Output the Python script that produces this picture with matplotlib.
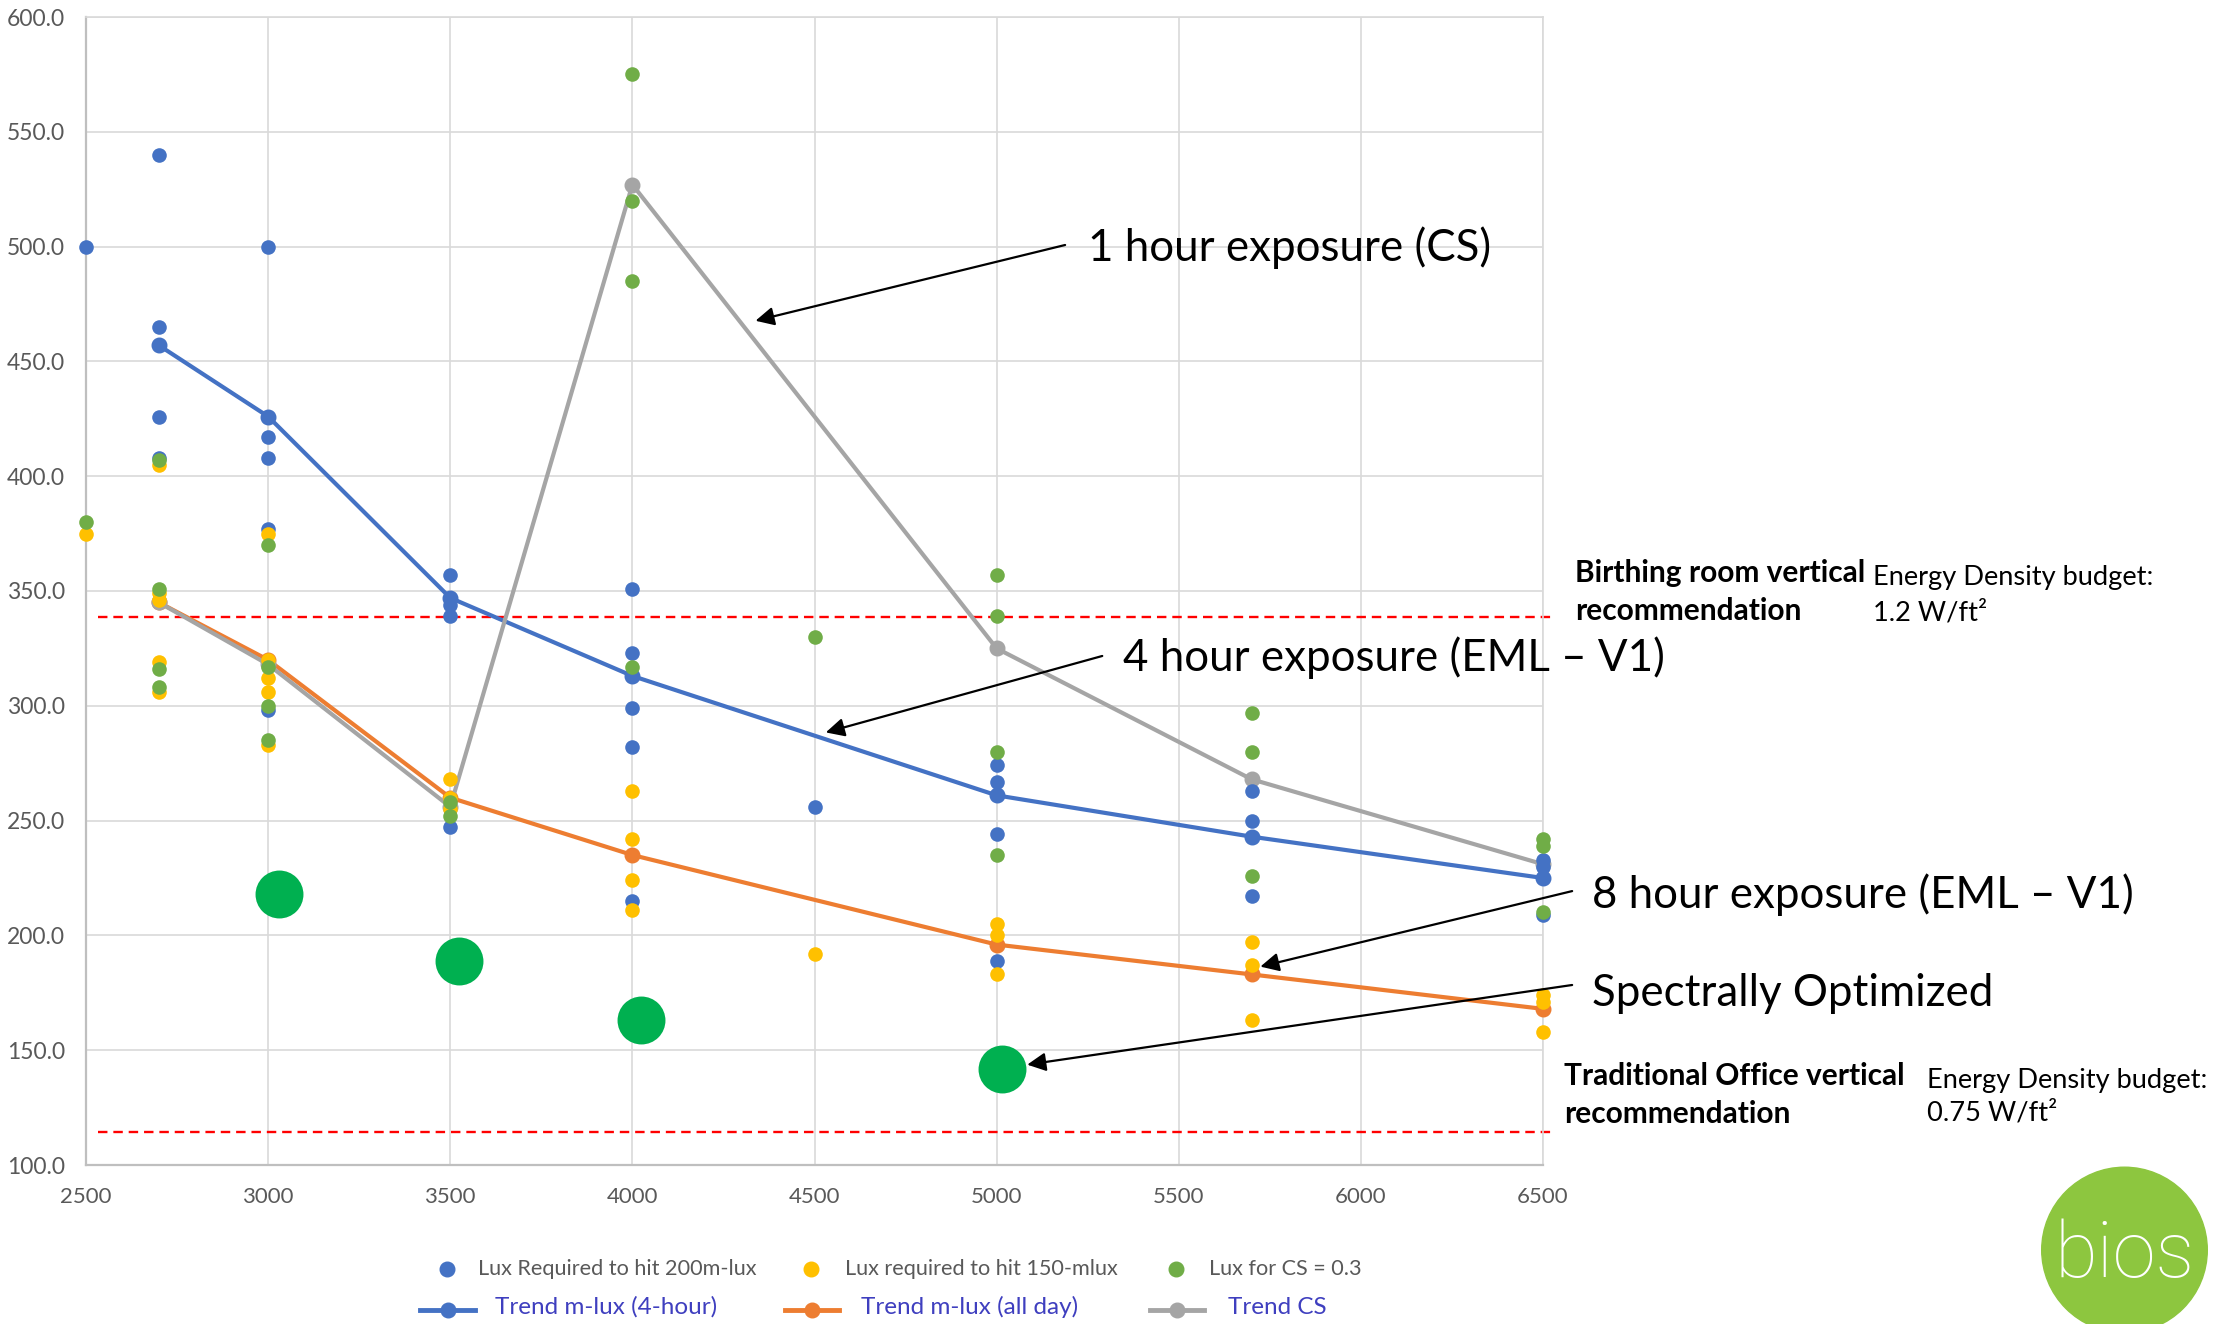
import matplotlib
matplotlib.use("Agg")
import matplotlib.pyplot as plt
from matplotlib.lines import Line2D
from matplotlib.patches import Circle

plt.rcParams['font.family'] = ['Lato', 'DejaVu Sans']

W, H = 2220, 1324

# ---------------- data ----------------
cct_points = [2500, 2700, 3000, 3500, 4000, 4500, 5000, 5700, 6500]
lux_200mlux = [[500], [540, 465, 457, 426, 408], [500, 426, 417, 408, 377, 298],
               [357, 347, 344, 339, 247], [351, 323, 313, 299, 282, 215], [256],
               [274, 267, 261, 244, 189], [263, 250, 243, 217], [233, 230, 225, 209]]
lux_150mlux = [[375], [405, 349, 346, 319, 306], [375, 320, 312, 306, 283],
               [268, 260, 255], [263, 242, 224, 211], [192],
               [205, 200, 183], [197, 187, 163], [174, 171, 158]]
lux_cs03 = [[380], [407, 351, 316, 308], [370, 317, 300, 285], [258, 252],
            [575, 520, 485, 317], [330], [357, 339, 280, 235], [297, 280, 226],
            [242, 239, 210]]

trend_cct = [2700, 3000, 3500, 4000, 5000, 5700, 6500]
trend_4hour = [457, 426, 347, 313, 261, 243, 225]
trend_allday = [345, 320, 260, 235, 196, 183, 168]
trend_cs = [345, 318, 256, 527, 325, 268, 231]

spectral_cct = [3030, 3525, 4025, 5015]
spectral_lux = [218, 189, 163, 142]

birthing_rec = 338.5
office_rec = 114.5

x_ticks = [2500, 3000, 3500, 4000, 4500, 5000, 5500, 6000, 6500]
y_ticks = [100, 150, 200, 250, 300, 350, 400, 450, 500, 550, 600]

scatter_labels = ["Lux Required to hit 200m-lux", "Lux required to hit 150-mlux", "Lux for CS = 0.3"]
trend_labels = ["Trend m-lux (4-hour)", "Trend m-lux (all day)", "Trend CS"]

C_BLUE, C_YEL, C_GRN = '#4472C4', '#FFC000', '#70AD47'
C_ORG, C_GRY = '#ED7D31', '#A5A5A5'
C_SPEC = '#00B050'
TXT = '#595959'


def flat(xs, groups):
    ox, oy = [], []
    for x, g in zip(xs, groups):
        ox.extend([x] * len(g))
        oy.extend(g)
    return ox, oy


def fp(x, y):
    return (x / W, 1 - y / H)


fig = plt.figure(figsize=(W / 100, H / 100), dpi=100)
fig.patch.set_facecolor('white')
ax = fig.add_axes([86 / W, 1 - 1165 / H, (1543 - 86) / W, (1165 - 17) / H])

ax.set_xlim(2500, 6500)
ax.set_ylim(100, 600)
ax.set_xticks(x_ticks)
ax.set_yticks(y_ticks)
ax.set_yticklabels([f"{v:.1f}" for v in y_ticks])
ax.tick_params(axis='y', length=0, labelsize=16.5, labelcolor=TXT, pad=15)
ax.tick_params(axis='x', length=0, labelsize=16, labelcolor=TXT, pad=16)
ax.grid(True, color='#D9D9D9', lw=1.2)
ax.set_axisbelow(True)
for s in ['top', 'right']:
    ax.spines[s].set_color('#D9D9D9')
    ax.spines[s].set_linewidth(1.2)
for s in ['left', 'bottom']:
    ax.spines[s].set_color('#BFBFBF')
    ax.spines[s].set_linewidth(1.6)

# reference lines
for yv in (birthing_rec, office_rec):
    ax.plot([0.008, 1.007], [yv, yv], transform=ax.get_yaxis_transform(),
            color='#FF0000', lw=1.7, ls=(0, (4, 2.5)), clip_on=False, zorder=2)

# trend lines
for ys, c in ((trend_4hour, C_BLUE), (trend_allday, C_ORG), (trend_cs, C_GRY)):
    ax.plot(trend_cct, ys, color=c, lw=3, marker='o', ms=10.5, mec=c, zorder=3, clip_on=False)

# scatter series
for groups, c in ((lux_200mlux, C_BLUE), (lux_150mlux, C_YEL), (lux_cs03, C_GRN)):
    xs, ys = flat(cct_points, groups)
    ax.scatter(xs, ys, s=10.5 ** 2, color=c, linewidths=0, zorder=4, clip_on=False)

# spectrally optimized
ax.scatter(spectral_cct, spectral_lux, s=34.5 ** 2, color=C_SPEC, linewidths=0, zorder=6, clip_on=False)

# annotations with arrows
arrow_kw = dict(arrowstyle='-|>', color='black', lw=1.6, mutation_scale=28, shrinkA=0, shrinkB=0)
ax.annotate('', xy=(4338, 467.7), xytext=(5188, 500.7), arrowprops=arrow_kw, annotation_clip=False, zorder=7)
ax.annotate('', xy=(4531, 288.4), xytext=(5290, 321.7), arrowprops=arrow_kw, annotation_clip=False, zorder=7)
ax.annotate('', xy=(5724, 186.4), xytext=(6580, 219.3), arrowprops=arrow_kw, annotation_clip=False, zorder=7)
ax.annotate('', xy=(5084, 143.7), xytext=(6580, 178.4), arrowprops=arrow_kw, annotation_clip=False, zorder=7)

big = dict(fontsize=31.6, color='black', va='baseline', ha='left')
fig.text(*fp(1088, 261), "1 hour exposure (CS)", **big)
fig.text(*fp(1123, 671), "4 hour exposure (EML – V1)", **big)
fig.text(*fp(1592, 908), "8 hour exposure (EML – V1)", **big)
fig.text(*fp(1592, 1006), "Spectrally Optimized", **big)

bold = dict(fontsize=21.5, fontweight='bold', color='black', va='baseline', ha='left')
reg = dict(fontsize=19.6, color='black', va='baseline', ha='left')
fig.text(*fp(1575, 582), "Birthing room vertical", **bold)
fig.text(*fp(1575, 620), "recommendation", **bold)
fig.text(*fp(1873, 585), "Energy Density budget:", **reg)
fig.text(*fp(1873, 620), "1.2 W/ft²", **reg)
fig.text(*fp(1564, 1085), "Traditional Office vertical", **bold)
fig.text(*fp(1564, 1123), "recommendation", **bold)
fig.text(*fp(1927, 1088), "Energy Density budget:", **reg)
fig.text(*fp(1927, 1121), "0.75 W/ft²", **reg)

# legend (row 1: scatter series, row 2: trend lines)
row1_marker_x = [447, 811, 1176]
row1_text_x = [478, 845, 1209]
for mx, tx, c, lab in zip(row1_marker_x, row1_text_x, (C_BLUE, C_YEL, C_GRN), scatter_labels):
    fig.add_artist(Line2D([mx / W], [1 - 1269 / H], marker='o', ms=10.5, color=c, mec=c,
                          ls='none', transform=fig.transFigure))
    fig.text(*fp(tx, 1269), lab, fontsize=15.6, color=TXT, va='center', ha='left')

row2_line = [(420, 475), (785, 839), (1150, 1204)]
row2_text_x = [495, 861, 1228]
for (x0, x1), tx, c, lab in zip(row2_line, row2_text_x, (C_BLUE, C_ORG, C_GRY), trend_labels):
    fig.add_artist(Line2D([x0 / W, x1 / W], [1 - 1310 / H] * 2, color=c, lw=3.5,
                          transform=fig.transFigure))
    fig.add_artist(Line2D([(x0 + x1) / 2 / W], [1 - 1310 / H], marker='o', ms=10.5, color=c,
                          mec=c, ls='none', transform=fig.transFigure))
    fig.text(*fp(tx, 1307), lab, fontsize=17.5, color='#3F3FBF', va='center', ha='left')

# bios logo
logo = Circle((2124.5 / 100, (H - 1250) / 100), 82.8 / 100,
              transform=fig.dpi_scale_trans, color='#8DC63F')
fig.add_artist(logo)
fig.text(*fp(2125, 1277), "bios", fontsize=56, family=['Roboto', 'DejaVu Sans'],
         fontweight='light', color='white', ha='center', va='baseline')

fig.savefig('out.png', dpi=100, facecolor='white')
